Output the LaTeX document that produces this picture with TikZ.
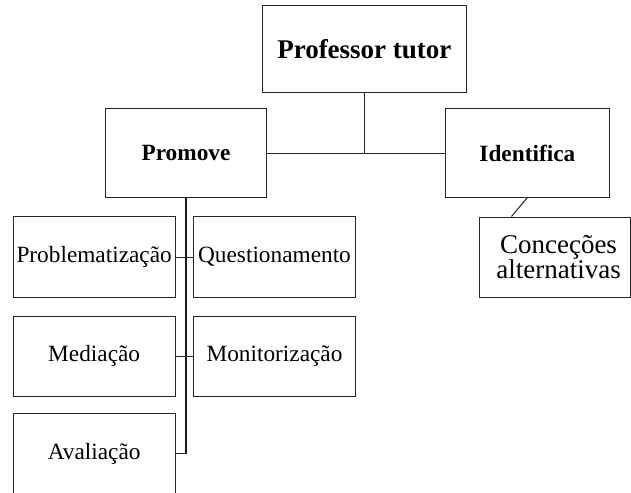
\documentclass[tikz,border=0pt]{standalone}
\usepackage{fontspec}
\setmainfont{Liberation Serif}
\usetikzlibrary{calc}
\begin{document}
\begin{tikzpicture}[x=1pt,y=-1pt,
  box/.style={draw=black!85,line width=1pt,rectangle,inner sep=0pt,align=center,text=black},
  link/.style={draw=black!85,line width=1pt},
  trunk/.style={draw=black!90,line width=1.7pt},
  big/.style={font=\fontsize{27}{30}\selectfont\bfseries},
  mid/.style={font=\fontsize{23.3}{27}\selectfont\bfseries},
  reg/.style={font=\fontsize{23.3}{27}\selectfont},
  con/.style={font=\fontsize{27}{25.5}\selectfont}]
\clip (0,0) rectangle (631,492);
\fill[white] (0,0) rectangle (631,492);
% boxes
\node[box,big,minimum width=203.3pt,minimum height=87pt] (prof) at (364.35,48.8) {Professor tutor};
\node[box,mid,minimum width=161.4pt,minimum height=88pt] (prom) at (186,153) {Promove};
\node[box,mid,minimum width=163.3pt,minimum height=88pt] (iden) at (527.35,153) {Identifica};
\node[box,minimum width=151pt,minimum height=80pt] (conc) at (554.5,257) {};
\node[con,align=center] (conct) at (558.5,257) {Conceções\\alternativas};
\node[box,reg,minimum width=161.7pt,minimum height=80.6pt] (prob) at (94.15,257) {Problematização};
\node[box,reg,minimum width=162.4pt,minimum height=80.6pt] (ques) at (274.5,257) {Questionamento};
\node[box,reg,minimum width=161.7pt,minimum height=80pt] (medi) at (94.15,356) {Mediação};
\node[box,reg,minimum width=162.4pt,minimum height=80pt] (moni) at (274.5,356) {Monitorização};
\node[box,reg,minimum width=161.7pt,minimum height=80.3pt] (aval) at (94.15,453.85) {Avaliação};
% connectors
\coordinate (pj) at (prof.south |- prom.east);
\draw[link] (prof.south) -- (pj);
\draw[link] (prom.east) -- (iden.west);
\draw[link] (iden.south) -- ($(conc.north west)+(33,0)$);
\coordinate (tend) at (prom.south |- aval.east);
\draw[trunk] (prom.south) -- (tend);
\draw[link] (prob.east) -- (ques.west);
\draw[link] (medi.east) -- (moni.west);
\draw[link] (aval.east) -- (tend);
\end{tikzpicture}
\end{document}
